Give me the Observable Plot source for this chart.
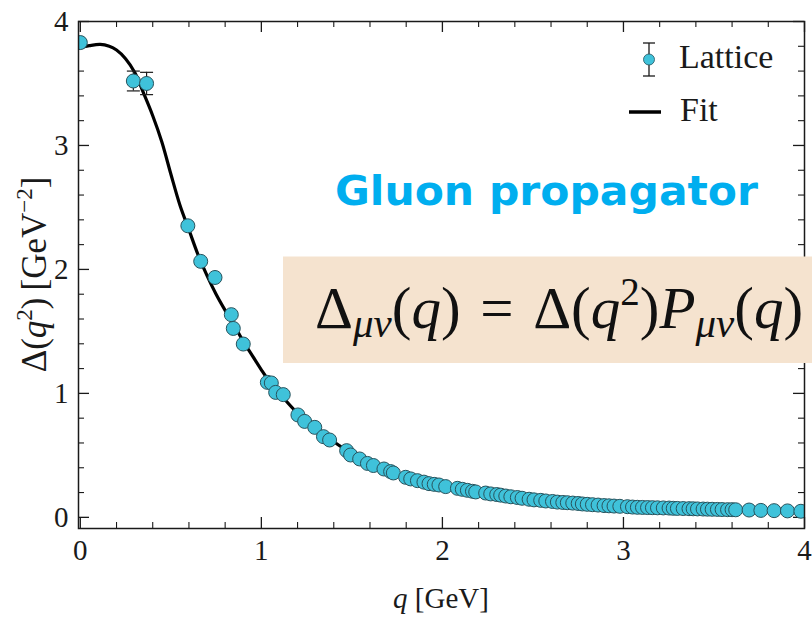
<!DOCTYPE html>
<html>
<head>
<meta charset="utf-8">
<script src="https://cdn.jsdelivr.net/npm/d3@7"></script>
<script src="https://cdn.jsdelivr.net/npm/@observablehq/plot@0.6"></script>
<style>
  html, body { margin: 0; padding: 0; background: #fff; }
  #chart { width: 812px; height: 617px; overflow: hidden; }
</style>
</head>
<body>
<div id="chart"></div>
<script>
// Lattice data: momentum q [GeV] and propagator Δ(q²) [GeV⁻²]
const latticeQ = [
  0.000, 0.293, 0.366, 0.594, 0.665, 0.744, 0.834, 0.845, 0.900, 1.033,
  1.055, 1.079, 1.121, 1.202, 1.239, 1.295, 1.343, 1.377, 1.471, 1.493,
  1.543, 1.586, 1.619, 1.677, 1.714, 1.729, 1.797, 1.825, 1.862, 1.898,
  1.926, 1.955, 1.981, 2.018, 2.083, 2.110, 2.138, 2.166, 2.184, 2.239,
  2.267, 2.300, 2.322, 2.350, 2.378, 2.414, 2.440, 2.479, 2.506, 2.543,
  2.571, 2.608, 2.635, 2.665, 2.690, 2.720, 2.750, 2.773, 2.800, 2.829,
  2.860, 2.893, 2.920, 2.948, 2.980, 3.022, 3.050, 3.077, 3.105, 3.133,
  3.160, 3.188, 3.220, 3.252, 3.275, 3.298, 3.330, 3.362, 3.385, 3.409,
  3.440, 3.464, 3.490, 3.519, 3.545, 3.575, 3.600, 3.620, 3.694, 3.759,
  3.832, 3.906, 3.980
];
const latticeDelta = [
  3.830, 3.520, 3.500, 2.352, 2.065, 1.935, 1.635, 1.524, 1.398, 1.089,
  1.084, 1.008, 0.990, 0.826, 0.774, 0.726, 0.651, 0.624, 0.538, 0.503,
  0.471, 0.435, 0.418, 0.390, 0.369, 0.358, 0.323, 0.310, 0.296, 0.284,
  0.272, 0.266, 0.261, 0.248, 0.234, 0.226, 0.218, 0.210, 0.205, 0.196,
  0.189, 0.184, 0.179, 0.172, 0.166, 0.160, 0.154, 0.146, 0.141, 0.137,
  0.132, 0.128, 0.123, 0.120, 0.118, 0.115, 0.112, 0.108, 0.105, 0.102,
  0.099, 0.095, 0.093, 0.091, 0.089, 0.086, 0.083, 0.081, 0.080, 0.079,
  0.078, 0.077, 0.076, 0.075, 0.073, 0.072, 0.071, 0.070, 0.069, 0.068,
  0.067, 0.066, 0.065, 0.064, 0.063, 0.062, 0.062, 0.061, 0.059, 0.056,
  0.054, 0.052, 0.049
];

// Points with visible statistical errors (half-widths)
const errorQ = [0.293, 0.366];
const errorDelta = [3.520, 3.500];
const errorHalf = [0.080, 0.090];

// Fit curve sampled along q
const fitQ = [
  0.00, 0.05, 0.11, 0.16, 0.20, 0.25, 0.30, 0.35, 0.40, 0.45,
  0.50, 0.55, 0.60, 0.65, 0.70, 0.75, 0.80, 0.85, 0.90, 0.95,
  1.00, 1.05, 1.10, 1.20, 1.30, 1.40, 1.50, 1.60, 1.70, 1.80,
  1.90, 2.00, 2.20, 2.40, 2.60, 2.80, 3.00, 3.20, 3.40, 3.60,
  3.80, 4.00
];
const fitDelta = [
  3.790, 3.805, 3.815, 3.800, 3.770, 3.700, 3.590, 3.420, 3.240, 3.030,
  2.770, 2.520, 2.320, 2.120, 1.950, 1.800, 1.670, 1.550, 1.420, 1.305,
  1.190, 1.085, 1.000, 0.840, 0.720, 0.610, 0.515, 0.440, 0.378, 0.330,
  0.287, 0.255, 0.200, 0.158, 0.127, 0.104, 0.088, 0.077, 0.069, 0.062,
  0.056, 0.050
];

// Axis tick values
const xMajor = [0, 1, 2, 3, 4];
const yMajor = [0, 1, 2, 3, 4];
const xMinor = d3.range(0, 4.0001, 0.2).filter(v => Math.abs(v - Math.round(v)) > 1e-6);
const yMinor = d3.range(0, 4.0001, 0.2).filter(v => Math.abs(v - Math.round(v)) > 1e-6);

const W = 812, H = 617;
const M = {top: 21, right: 8, bottom: 89, left: 78};
const innerW = W - M.left - M.right;
const innerH = H - M.top - M.bottom;

const lattice = latticeQ.map((q, i) => ({q, d: latticeDelta[i]}));
const fit = fitQ.map((q, i) => ({q, d: fitDelta[i]}));
const bars = errorQ.map((q, i) => ({q, lo: errorDelta[i] - errorHalf[i], hi: errorDelta[i] + errorHalf[i]}));

// horizontal cap for error bars
const capSymbol = {
  draw(ctx, size) {
    const r = Math.sqrt(size / Math.PI);
    ctx.moveTo(-r, 0);
    ctx.lineTo(r, 0);
  }
};

const dotFill = "#3fc2da";
const dotStroke = "#28535d";
const ink = "#1a1a1a";
const serif = "'Liberation Serif', 'DejaVu Serif', serif";

const chart = Plot.plot({
  width: W,
  height: H,
  marginTop: M.top,
  marginRight: M.right,
  marginBottom: M.bottom,
  marginLeft: M.left,
  style: {fontFamily: serif, fontSize: "28px", color: ink, background: "white"},
  x: {domain: [-0.01, 4.0]},
  y: {domain: [-0.09, 4.0]},
  marks: [
    // inward ticks on all four sides
    Plot.tickX(xMajor, {x: d => d, insetTop: innerH - 11, stroke: ink, strokeWidth: 1.3}),
    Plot.tickX(xMinor, {x: d => d, insetTop: innerH - 6, stroke: ink, strokeWidth: 1.1}),
    Plot.tickX(xMajor, {x: d => d, insetBottom: innerH - 11, stroke: ink, strokeWidth: 1.3}),
    Plot.tickX(xMinor, {x: d => d, insetBottom: innerH - 6, stroke: ink, strokeWidth: 1.1}),
    Plot.tickY(yMajor, {y: d => d, insetRight: innerW - 11, stroke: ink, strokeWidth: 1.3}),
    Plot.tickY(yMinor, {y: d => d, insetRight: innerW - 6, stroke: ink, strokeWidth: 1.1}),
    Plot.tickY(yMajor, {y: d => d, insetLeft: innerW - 11, stroke: ink, strokeWidth: 1.3}),
    Plot.tickY(yMinor, {y: d => d, insetLeft: innerW - 6, stroke: ink, strokeWidth: 1.1}),
    Plot.axisX({ticks: xMajor, tickSize: 0, tickPadding: 11, label: null, fontSize: 29, fontFamily: serif, tickFormat: d3.format("d")}),
    Plot.axisY({ticks: yMajor, tickSize: 0, tickPadding: 10, label: null, fontSize: 29, fontFamily: serif, tickFormat: d3.format("d")}),
    Plot.line(fit, {x: "q", y: "d", curve: "catmull-rom", stroke: "black", strokeWidth: 3.2, clip: true}),
    Plot.ruleX(bars, {x: "q", y1: "lo", y2: "hi", stroke: ink, strokeWidth: 1.2}),
    Plot.dot(bars, {x: "q", y: "lo", symbol: capSymbol, r: 6.5, stroke: ink, strokeWidth: 1.2}),
    Plot.dot(bars, {x: "q", y: "hi", symbol: capSymbol, r: 6.5, stroke: ink, strokeWidth: 1.2}),
    Plot.dot(lattice, {x: "q", y: "d", r: 7, fill: dotFill, stroke: dotStroke, strokeWidth: 1, fillOpacity: 1, clip: true}),
    Plot.frame({stroke: ink, strokeWidth: 1.5})
  ]
});

document.getElementById("chart").appendChild(chart);

const svg = d3.select(chart);

// axis titles
const xt = svg.append("text")
  .attr("x", (M.left + W - M.right) / 2)
  .attr("y", 608)
  .attr("text-anchor", "middle")
  .attr("font-family", serif)
  .attr("font-size", 29)
  .attr("fill", ink);
xt.append("tspan").attr("font-style", "italic").text("q");
xt.append("tspan").text(" [GeV]");

const yt = svg.append("text")
  .attr("transform", `translate(46,${(M.top + H - M.bottom) / 2}) rotate(-90)`)
  .attr("text-anchor", "middle")
  .attr("font-family", serif)
  .attr("font-size", 35)
  .attr("fill", ink);
yt.append("tspan").text("Δ(");
yt.append("tspan").attr("font-style", "italic").text("q");
yt.append("tspan").attr("font-size", 23).attr("dy", -14).text("2");
yt.append("tspan").attr("dy", 14).text(")\u2009[GeV");
yt.append("tspan").attr("font-size", 23).attr("dy", -14).text("−2");
yt.append("tspan").attr("dy", 14).text("]");

// legend
const lg = svg.append("g").attr("font-family", serif).attr("font-size", 34).attr("fill", ink).attr("text-anchor", "start");
lg.append("line").attr("x1", 649).attr("x2", 649).attr("y1", 43).attr("y2", 76).attr("stroke", ink).attr("stroke-width", 1.3);
lg.append("line").attr("x1", 643).attr("x2", 655).attr("y1", 43).attr("y2", 43).attr("stroke", ink).attr("stroke-width", 1.3);
lg.append("line").attr("x1", 643).attr("x2", 655).attr("y1", 76).attr("y2", 76).attr("stroke", ink).attr("stroke-width", 1.3);
lg.append("circle").attr("cx", 649).attr("cy", 59.5).attr("r", 5.5).attr("fill", dotFill).attr("stroke", dotStroke).attr("stroke-width", 0.8);
lg.append("text").attr("x", 679).attr("y", 68).text("Lattice");
lg.append("line").attr("x1", 629).attr("x2", 661).attr("y1", 112).attr("y2", 112).attr("stroke", "black").attr("stroke-width", 3.5);
lg.append("text").attr("x", 680).attr("y", 121).text("Fit");

// headline
svg.append("text")
  .attr("x", 335).attr("y", 205)
  .attr("text-anchor", "start")
  .attr("font-family", "'DejaVu Sans', 'Noto Sans', sans-serif")
  .attr("font-weight", 700)
  .attr("font-size", 41)
  .attr("textLength", 423)
  .attr("lengthAdjust", "spacingAndGlyphs")
  .attr("fill", "#00aeef")
  .text("Gluon propagator");

// definition box
svg.append("rect")
  .attr("x", 283).attr("y", 256.5)
  .attr("width", W - 283).attr("height", 106.5)
  .attr("fill", "#f5e3cf");
const eq = svg.append("text")
  .attr("x", 315).attr("y", 328)
  .attr("text-anchor", "start")
  .attr("font-family", serif)
  .attr("font-size", 59)
  .attr("fill", "#111");
eq.append("tspan").text("Δ");
eq.append("tspan").attr("font-style", "italic").attr("font-size", 41).attr("dy", 9).text("μν");
eq.append("tspan").attr("dy", -9).text("(");
eq.append("tspan").attr("font-style", "italic").text("q");
eq.append("tspan").text(")\u2004=\u2004Δ(");
eq.append("tspan").attr("font-style", "italic").text("q");
eq.append("tspan").attr("font-size", 39).attr("dy", -23).text("2");
eq.append("tspan").attr("dy", 23).text(")");
eq.append("tspan").attr("font-style", "italic").text("P");
eq.append("tspan").attr("font-style", "italic").attr("font-size", 41).attr("dy", 9).text("μν");
eq.append("tspan").attr("dy", -9).text("(");
eq.append("tspan").attr("font-style", "italic").text("q");
eq.append("tspan").text(")");
</script>
</body>
</html>
